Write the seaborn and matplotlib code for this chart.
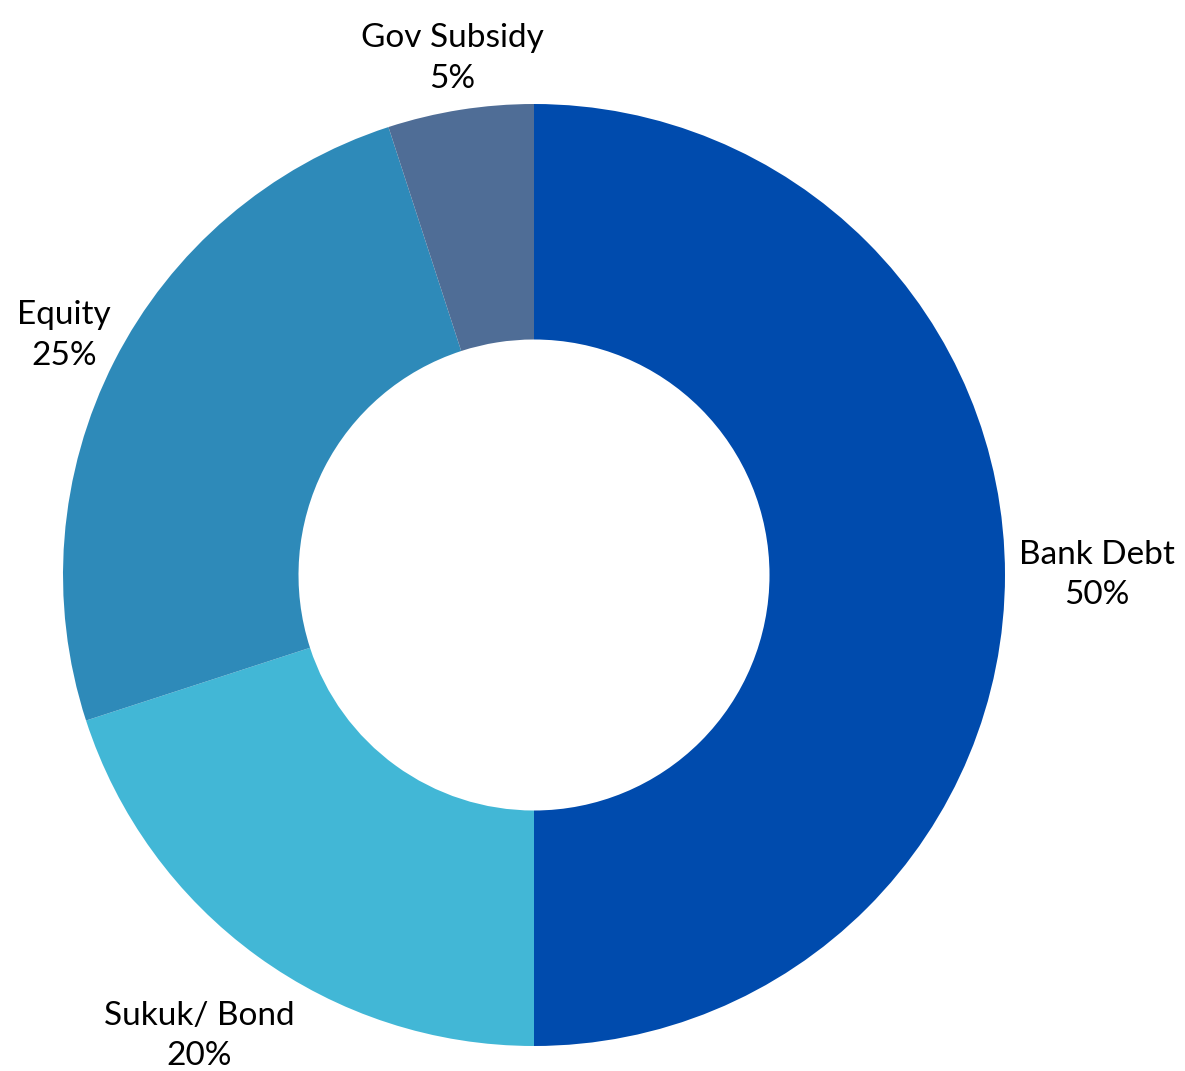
import numpy as np
import matplotlib
matplotlib.use("Agg")
import matplotlib.pyplot as plt
import seaborn as sns

categories = ["Bank Debt", "Sukuk/ Bond", "Equity", "Gov Subsidy"]
shares = [50, 20, 25, 5]
colors = ["#004BAD", "#42B7D6", "#2E8AB9", "#4F6D96"]
label_dist = [1.195, 1.21, 1.12, 1.11]

sns.set_style("white")
plt.rcParams["font.family"] = ["Lato", "DejaVu Sans"]

W, H = 1185, 1071
fig = plt.figure(figsize=(W / 100, H / 100), dpi=100)
ax = fig.add_axes([0, 0, 1, 1])
cx, cy, R = 534, H - 575, 471

wedges, _ = ax.pie(shares, colors=colors, startangle=90, counterclock=False,
                   radius=R, center=(cx, cy),
                   wedgeprops=dict(width=R * 0.5, linewidth=0))
for w, cat, val, d in zip(wedges, categories, shares, label_dist):
    ang = np.deg2rad((w.theta1 + w.theta2) / 2)
    x = cx + R * d * np.cos(ang)
    y = cy + R * d * np.sin(ang)
    ax.text(x, y, f"{cat}\n{val}%", ha="center", va="center", fontsize=24,
            color="#000000", linespacing=1.45)
ax.set_xlim(0, W)
ax.set_ylim(0, H)
ax.set_aspect("equal")
ax.axis("off")
fig.savefig("out.png", dpi=100, facecolor="white")
